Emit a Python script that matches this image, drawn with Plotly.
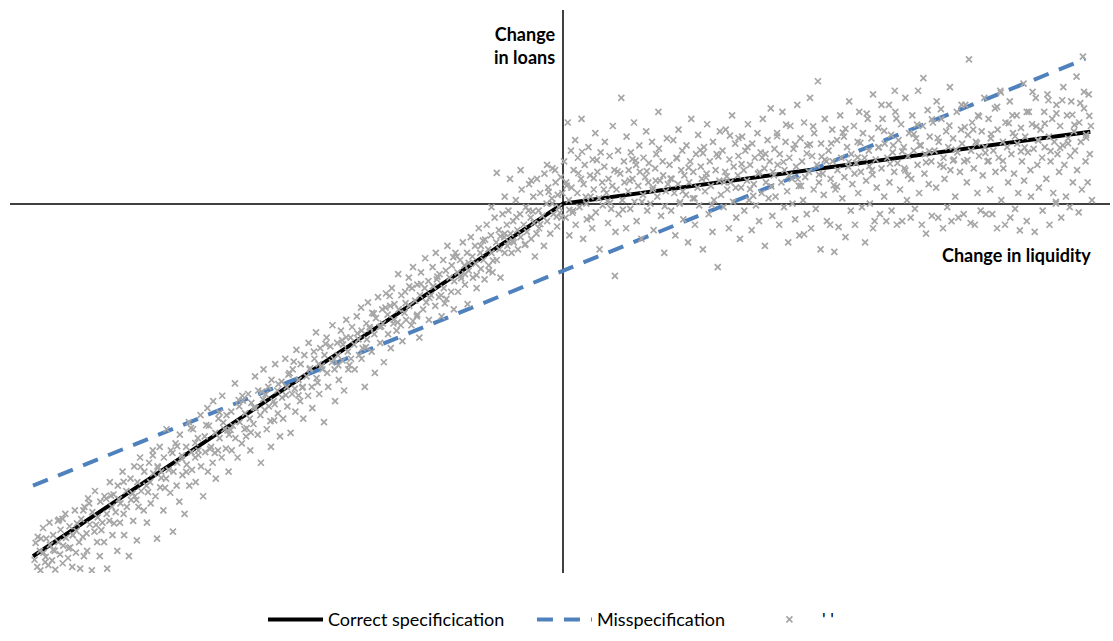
import plotly.graph_objects as go

# ---- data (permille units) ----
liq_left = [-997,-995,-992,-991,-987,-986,-981,-980,-976,-975,-971,-969,-968,-964,-962,-959,-958,-953,-952,-949,-948,-944,-943,-939,-938,-934,-931,-930,-926,-925,-921,-919,-918,-913,-911,-909,-906,-904,-903,-899,
 -898,-894,-893,-889,-888,-884,-883,-879,-878,-874,-873,-869,-866,-865,-861,-860,-856,-855,-851,-850,-848,-844,-841,-840,-836,-835,-831,-829,-828,-824,-823,-819,-816,-815,-811,-809,-808,-804,-803,-801,
 -798,-796,-791,-790,-786,-785,-781,-779,-778,-774,-773,-769,-766,-765,-761,-760,-758,-754,-753,-749,-748,-744,-741,-740,-736,-735,-731,-729,-728,-724,-723,-719,-718,-714,-711,-710,-706,-705,-701,-700,
 -698,-694,-693,-689,-688,-684,-683,-679,-676,-675,-671,-670,-668,-664,-661,-660,-656,-655,-651,-650,-648,-644,-643,-639,-636,-635,-631,-630,-626,-625,-623,-619,-618,-614,-611,-610,-606,-605,-601,-600,
 -598,-594,-591,-590,-588,-584,-581,-580,-576,-575,-571,-570,-566,-565,-563,-559,-556,-555,-551,-550,-546,-545,-543,-539,-538,-534,-531,-530,-528,-524,-521,-520,-518,-514,-511,-510,-506,-505,-503,-499,
 -496,-495,-491,-490,-488,-484,-481,-480,-478,-474,-473,-469,-466,-465,-461,-460,-458,-454,-451,-450,-446,-445,-443,-439,-436,-435,-431,-430,-426,-425,-423,-419,-416,-415,-413,-409,-406,-405,-401,-400,
 -398,-394,-393,-389,-386,-385,-381,-380,-378,-374,-371,-370,-368,-364,-361,-360,-356,-355,-353,-349,-346,-345,-341,-340,-338,-334,-331,-330,-326,-325,-323,-319,-318,-314,-311,-310,-306,-305,-303,-299,
 -298,-296,-291,-290,-286,-285,-283,-279,-276,-275,-271,-270,-268,-264,-261,-260,-258,-254,-253,-249,-246,-245,-241,-240,-238,-234,-233,-229,-226,-225,-221,-220,-218,-214,-211,-210,-206,-205,-203,-199,
 -198,-194,-193,-189,-186,-185,-181,-180,-178,-174,-171,-170,-166,-165,-163,-159,-156,-155,-151,-150,-148,-144,-141,-140,-136,-135,-133,-129,-126,-125,-121,-120,-118,-114,-111,-110,-106,-105,-103,-99,
 -97,-94,-93,-89,-86,-85,-81,-80,-78,-74,-71,-70,-68,-64,-61,-60,-56,-55,-53,-49,-46,-45,-43,-39,-36,-35,-31,-30,-28,-24,-21,-20,-18,-14,-11,-10,-8,-4,-3,-1,-125,-100,-80,-110,-135,-60,-30,-15]
loans_left = [-1010,-962,-1030,-945,-985,-1040,-920,-990,-1002,-950,-1025,-905,-968,-1012,-940,-985,-1038,-900,-960,-995,-925,-1020,-970,-880,-948,-1005,-915,-975,-1030,-940,-870,-990,-928,-960,-1035,-895,-945,-1000,-860,-935,
 -985,-850,-910,-1040,-875,-930,-815,-960,-890,-1000,-845,-905,-960,-830,-880,-1035,-900,-790,-860,-940,-825,-875,-985,-800,-905,-850,-760,-880,-940,-815,-860,-1000,-780,-840,-900,-745,-830,-955,-790,-860,
 -720,-815,-870,-760,-800,-905,-735,-790,-850,-700,-765,-830,-950,-745,-690,-805,-760,-870,-720,-780,-640,-755,-820,-700,-930,-760,-680,-800,-735,-845,-655,-715,-770,-880,-690,-740,-620,-800,-705,-755,
 -640,-720,-790,-665,-700,-600,-745,-830,-660,-705,-580,-760,-630,-690,-735,-560,-650,-780,-700,-610,-665,-720,-545,-640,-695,-600,-760,-655,-590,-700,-630,-510,-665,-720,-575,-620,-680,-545,-640,-595,
 -660,-540,-610,-700,-565,-625,-490,-580,-655,-530,-600,-735,-555,-470,-585,-640,-520,-575,-690,-500,-560,-615,-455,-530,-595,-660,-505,-550,-610,-440,-520,-575,-485,-650,-540,-470,-525,-590,-415,-500,
 -560,-455,-520,-610,-430,-490,-545,-395,-470,-520,-580,-440,-365,-495,-455,-540,-410,-470,-620,-430,-380,-480,-520,-405,-450,-345,-470,-560,-395,-430,-500,-360,-445,-400,-530,-330,-420,-470,-380,-440,
 -350,-400,-470,-320,-385,-430,-295,-360,-410,-520,-340,-385,-280,-355,-420,-310,-370,-480,-325,-265,-350,-395,-300,-340,-450,-255,-315,-370,-290,-410,-240,-330,-285,-360,-200,-300,-345,-260,-390,-310,
 -250,-330,-210,-290,-345,-240,-180,-275,-320,-230,-380,-260,-195,-300,-240,-155,-280,-220,-330,-260,-180,-235,-290,-140,-215,-265,-200,-320,-160,-240,-190,-270,-120,-210,-250,-175,-300,-220,-140,-195,
 -250,-160,-205,-110,-175,-230,-140,-285,-190,-95,-150,-210,-120,-170,-240,-70,-140,-185,-105,-160,-215,-60,-130,-175,-90,-140,-195,-40,-110,-160,-75,-130,-210,-30,-95,-140,-60,-120,-20,-85,
 -140,-50,-110,10,-75,-130,-30,-95,40,-60,-115,-10,-80,55,-40,-100,20,-55,-150,70,-20,-70,30,-35,-120,85,0,-50,45,-85,15,100,-30,60,-65,25,-10,75,-40,30,87,70,95,20,-10,65,110,95]

# denser core of the left cloud
liq_left_core = [-985,-962,-951,-933,-917,-896,-881,-862,-847,-829,-812,-797,-783,-764,-751,-737,-719,-702,-688,-673,-657,-641,-627,-612,-597,-583,-568,-552,-537,-523,-508,-492,-477,-463,-448,-432,-417,-403,-388,-372,-357,-343,-327,-312,-297,-283,-268,-252,-237,-223,-207,-192,-178,-163,-147,-132,-118,-103,-88,-72,-57,-43,-27,-12,
 -977,-944,-925,-905,-871,-853,-838,-805,-774,-758,-728,-711,-694,-666,-648,-633,-604,-589,-561,-544,-516,-499,-470,-455,-424,-409,-380,-365,-335,-320,-290,-275,-245,-230,-200,-185,-155,-140,-110,-95,-65,-50,-20,-6]
loans_left_core = [-950,-982,-896,-978,-907,-836,-911,-837,-907,-789,-822,-747,-818,-749,-806,-707,-724,-637,-713,-628,-707,-621,-642,-557,-637,-578,-533,-617,-512,-543,-448,-522,-467,-508,-398,-442,-387,-458,-368,-407,-312,-348,-262,-337,-282,-333,-228,-267,-207,-283,-152,-212,-168,-203,-102,-162,-93,-108,-38,-117,-22,-58,33,-37,
 -1017,-894,-940,-870,-926,-828,-838,-840,-714,-778,-688,-761,-679,-696,-593,-643,-559,-649,-541,-569,-481,-544,-420,-460,-459,-379,-440,-350,-295,-340,-235,-315,-235,-260,-150,-200,-120,-190,-85,-105,-20,-85,0,-26]

liq_right = [2,5,6,9,11,12,15,16,19,20,23,24,27,28,31,34,35,38,39,41,44,45,48,51,52,55,56,58,61,62,65,68,69,71,74,75,78,79,82,85,86,88,91,93,94,97,99,
 101,104,105,108,110,112,115,116,119,120,123,124,127,128,131,134,135,138,139,142,144,145,148,151,152,155,157,159,161,162,165,168,170,171,174,176,178,180,183,185,188,189,191,194,196,198,98,
 201,204,205,208,210,212,214,217,218,220,223,225,227,229,232,233,236,238,240,242,245,246,249,251,254,255,257,260,262,264,266,268,271,272,275,277,279,282,283,285,288,290,292,295,296,298,
 301,303,306,307,310,313,314,316,319,321,322,325,327,330,331,334,336,338,341,342,344,347,349,351,353,356,357,360,362,364,367,368,370,373,375,377,380,381,383,386,388,390,392,395,396,399,
 401,404,405,408,409,412,414,417,418,420,423,425,427,429,432,433,435,438,440,442,445,446,448,451,453,455,457,460,461,464,466,468,470,473,474,477,479,481,483,486,487,490,492,494,497,498,455,
 501,504,505,508,509,512,514,517,518,520,523,525,527,530,531,533,536,538,540,543,544,546,549,551,553,556,557,559,562,564,566,569,570,572,575,577,579,582,583,585,588,590,592,595,596,598,585,
 601,603,606,607,610,612,615,616,619,620,622,625,627,630,631,633,636,638,640,643,644,646,649,651,653,656,657,659,662,664,666,669,670,672,675,677,679,682,683,685,688,690,692,695,696,698,626,680,
 701,704,705,708,709,712,714,717,718,720,723,725,727,730,731,733,736,738,740,743,744,746,749,751,753,756,757,759,762,764,766,769,770,772,775,777,779,782,783,785,788,790,792,795,796,798,
 801,803,806,807,810,812,815,816,819,820,822,825,827,830,831,834,835,838,840,843,844,846,849,851,853,856,857,859,862,864,866,869,870,872,875,877,879,882,883,885,888,890,892,895,896,898,
 901,904,905,908,909,912,914,917,918,920,923,925,927,930,931,933,936,938,940,943,944,946,949,951,953,956,957,959,962,964,966,969,970,973,974,977,979,981,983,986,987,990,992,994,996,998,930]
loans_right = [120,-40,60,230,10,-90,150,45,-20,95,180,-60,30,130,-10,70,240,-100,55,110,0,-45,160,80,20,-70,125,40,200,-25,90,15,-130,145,60,-5,105,175,30,-55,70,135,-15,50,220,95,-80,
 40,150,-30,85,300,10,120,60,-70,190,35,95,-15,145,70,230,5,110,-50,50,165,90,-100,25,130,75,205,-20,60,115,0,175,45,-75,100,140,20,260,65,-35,120,80,-140,35,185,55,-205,
 110,-20,70,180,30,-90,130,55,210,0,95,150,-45,80,25,165,-110,60,120,240,15,90,-60,140,45,195,-5,105,70,-130,160,35,85,225,-30,120,50,-80,175,10,95,140,-180,65,205,25,
 150,-10,90,210,40,-70,125,60,250,5,105,170,-40,80,135,-100,45,190,95,-20,150,65,225,10,110,-75,170,55,130,-5,200,85,-50,145,30,240,100,-120,60,180,15,120,270,-35,90,155,
 20,200,110,-60,140,60,260,-10,95,175,35,-110,130,220,70,0,155,-45,105,280,50,-90,185,120,10,230,75,-30,165,90,300,-70,135,40,200,-15,110,347,60,-130,170,85,25,240,120,-50,-87,
 150,-60,70,210,120,-137,40,180,95,-67,250,130,15,190,75,-95,160,105,290,-20,140,55,220,-60,115,175,30,260,90,-10,200,130,-110,65,240,150,0,185,95,310,-50,125,45,215,160,-30,-70,
 100,240,20,170,-50,130,280,60,195,-20,145,90,260,-60,115,180,40,225,-50,160,100,300,10,135,200,-40,70,250,150,-15,185,110,320,30,165,-60,220,85,140,-85,265,55,190,120,-35,230,320,356,
 150,45,290,-40,175,110,240,-70,130,70,205,-10,160,330,95,-50,185,125,20,260,145,-40,90,210,170,-30,120,280,60,195,409,-55,150,230,100,-60,175,30,250,135,-20,205,80,300,160,-30,
 120,240,40,185,-30,150,270,90,-70,210,130,320,10,175,100,-60,230,160,60,290,-40,140,200,85,-15,250,170,30,-76,215,120,340,65,190,-50,145,260,95,20,225,155,-80,300,110,180,45,
 210,130,-20,260,160,70,310,190,-60,120,240,30,175,0,280,140,90,220,-40,165,330,110,20,250,185,-10,135,290,60,205,150,360,95,-25,230,175,40,417,270,120,195,60,310,140,220,10,5]

# denser core of the right cloud
liq_right_core = [7,18,29,43,53,64,77,89,103,113,126,137,149,158,169,181,192,203,215,226,237,248,259,270,281,293,304,315,326,337,348,359,371,382,393,404,416,427,438,449,460,472,483,494,506,517,528,539,550,561,573,584,595,606,617,629,640,651,662,673,685,696,707,718,729,741,752,763,774,785,797,808,819,830,841,853,864,875,886,897,909,920,931,942,953,965,976,987,993,
 12,36,58,84,131,175,221,264,309,331,353,376,398,421,443,466,488,511,533,556,578,601,623,646,668,691,713,736,758,781,803,826,848,871,893,916,938,961,983]
loans_right_core = [51,-26,86,19,-39,123,40,3,91,-17,65,122,5,92,39,156,-7,71,128,35,102,15,152,74,-4,134,61,193,45,112,160,22,89,141,49,191,118,80,168,50,142,219,82,124,171,48,201,118,85,172,255,82,159,206,113,241,148,80,197,165,117,239,186,104,221,153,280,123,210,247,144,197,274,121,228,191,148,260,317,179,227,149,256,293,171,223,285,187,249,
 -18,147,72,7,126,65,4,143,77,186,41,130,80,224,69,168,133,52,212,131,106,280,165,94,224,148,268,122,217,171,121,315,250,159,219,293,158,252,317]

# fitted lines (data units)
correct_x = [-1.0, 0.0, 0.995]
correct_y = [-1.0, 0.0, 0.204]
mis_x = [-1.0, 0.985]
mis_y = [-0.80, 0.41]

series_names = ["Correct specificication", "Misspecification", "' '"]
x_title = "Change in liquidity"
y_title = "Change<br>in loans"

liq = [v / 1000 for v in liq_left + liq_left_core + liq_right + liq_right_core]
loans = [v / 1000 for v in loans_left + loans_left_core + loans_right + loans_right_core]

FONT = "Lato, 'Open Sans', sans-serif"

fig = go.Figure()
fig.add_trace(go.Scatter(x=correct_x, y=correct_y, mode="lines", name=series_names[0],
                         line=dict(color="#000000", width=4), legend="legend"))
fig.add_trace(go.Scatter(x=mis_x, y=mis_y, mode="lines", name=series_names[1],
                         line=dict(color="#4f81bd", width=4, dash="16px,11px"), legend="legend2"))
fig.add_trace(go.Scatter(x=liq, y=loans, mode="markers", name=series_names[2],
                         marker=dict(symbol="x-thin", size=6, color="#a6a6a6",
                                     line=dict(color="#a6a6a6", width=1.7)),
                         legend="legend3"))

leg_common = dict(orientation="h", xanchor="left", y=-0.083, yanchor="middle",
                  font=dict(size=18, family=FONT), itemwidth=55,
                  bgcolor="rgba(0,0,0,0)")

fig.update_layout(
    width=1113, height=641,
    margin=dict(l=10, r=3, t=10, b=61),
    paper_bgcolor="white", plot_bgcolor="white",
    font=dict(family=FONT, color="#000000"),
    showlegend=True,
    legend=dict(x=0.23, **leg_common),
    legend2=dict(x=0.4745, **leg_common),
    legend3=dict(x=0.679, **leg_common),
    xaxis=dict(range=[-1.0434, 1.0321], showgrid=False, showticklabels=False,
               zeroline=True, zerolinecolor="#404040", zerolinewidth=2, showline=False,
               fixedrange=True),
    yaxis=dict(range=[-1.0476, 0.549], showgrid=False, showticklabels=False,
               zeroline=True, zerolinecolor="#404040", zerolinewidth=2, showline=False,
               fixedrange=True),
    annotations=[
        dict(x=0, y=0.448, xref="x", yref="y", text="<b>" + y_title + "</b>",
             showarrow=False, xanchor="right", yanchor="middle", align="right",
             xshift=-5, font=dict(size=18, family=FONT, color="#000000")),
        dict(x=1.0, y=-0.145, xref="x", yref="y", text="<b>" + x_title + "</b>",
             showarrow=False, xanchor="right", yanchor="middle",
             font=dict(size=18, family=FONT, color="#000000")),
    ],
)

fig.write_html("out.html")
